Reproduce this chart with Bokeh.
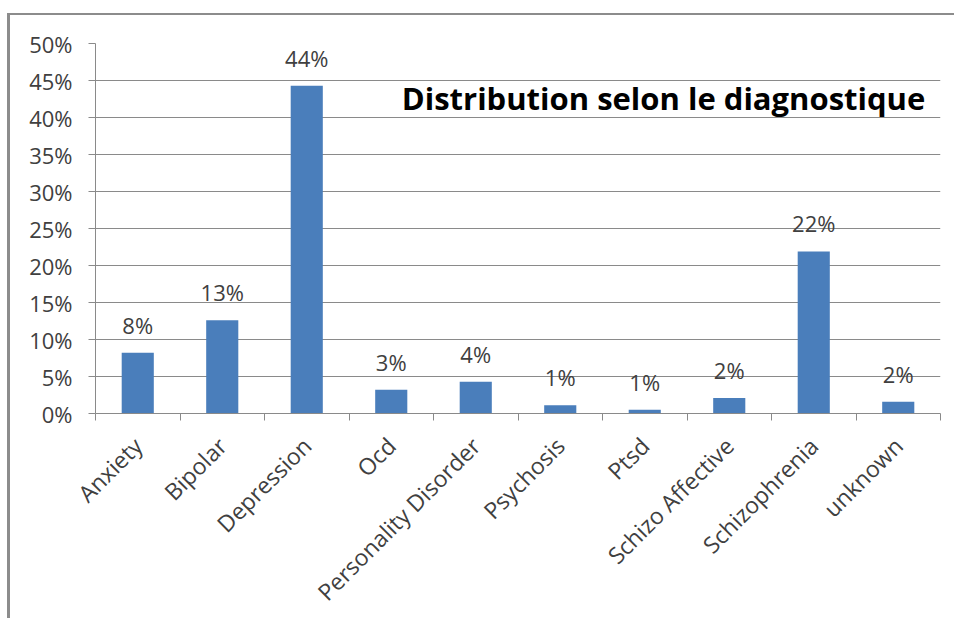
import math
from bokeh.plotting import figure
from bokeh.models import (ColumnDataSource, Range1d, LinearAxis,
                          FixedTicker, PrintfTickFormatter, Label)
from bokeh.core.properties import value
from bokeh.embed import file_html
from bokeh.resources import INLINE

categories = ["Anxiety", "Bipolar", "Depression", "Ocd", "Personality Disorder",
              "Psychosis", "Ptsd", "Schizo Affective", "Schizophrenia", "unknown"]
values = [8.2, 12.6, 44.3, 3.2, 4.3, 1.1, 0.5, 2.1, 21.9, 1.6]
y_ticks = [0, 5, 10, 15, 20, 25, 30, 35, 40, 45, 50]
title_text = "Distribution selon le diagnostique"

FONT = "Open Sans"
TXT = "#404040"
GRID = "#8a8a8a"
BAR = "#4A7EBB"

n = len(categories)
centers = [i + 0.5 for i in range(n)]
bounds = list(range(n + 1))
labels = ["%d%%" % int(v + 0.5) for v in values]
src = ColumnDataSource(dict(x=centers, val=values, lab=labels))

p = figure(x_range=Range1d(0, n), y_range=Range1d(0, 50),
           frame_width=845, frame_height=370,
           min_border_left=85, min_border_top=28, min_border_right=14, min_border_bottom=203,
           x_axis_location=None, y_axis_location="left",
           output_backend="svg", toolbar_location=None, tools="",
           background_fill_color="white", border_fill_color="white",
           outline_line_color=None)
p.margin = (13, 0, 0, 7)
p.styles = {"border-left": "3px solid #8c8c8c", "border-top": "2px solid #8c8c8c"}

p.vbar(x="x", top="val", width=0.38, source=src, fill_color=BAR, line_color=None)
p.text(x="x", y="val", text="lab", source=src, text_align="center",
       text_baseline="alphabetic", y_offset=-28, text_font=value(FONT),
       text_font_size="22px", text_color=TXT)

# y axis
ya = p.yaxis[0]
ya.ticker = FixedTicker(ticks=y_ticks)
ya.formatter = PrintfTickFormatter(format="%d%%")
ya.major_label_text_font = FONT
ya.major_label_text_font_size = "22px"
ya.major_label_text_color = TXT
ya.axis_line_color = GRID
ya.major_tick_line_color = GRID
ya.major_tick_out = 7
ya.major_tick_in = 0
ya.minor_tick_line_color = None
ya.major_label_standoff = 16

p.xgrid.visible = False
p.ygrid.ticker = FixedTicker(ticks=y_ticks)
p.ygrid.grid_line_color = GRID

# boundary ticks (Excel style)
tick_axis = LinearAxis(ticker=FixedTicker(ticks=bounds),
                       major_label_overrides={b: "" for b in bounds},
                       major_tick_out=7, major_tick_in=0,
                       major_tick_line_color=GRID, axis_line_color=GRID,
                       minor_tick_line_color=None,
                       major_label_text_font_size="4px", major_label_standoff=0)
p.add_layout(tick_axis, "below")

cat_axis = LinearAxis(ticker=FixedTicker(ticks=centers),
                      major_label_overrides={c: name for c, name in zip(centers, categories)},
                      axis_line_color=None, major_tick_line_color=None,
                      minor_tick_line_color=None,
                      major_label_orientation=math.pi / 4,
                      major_label_text_font=FONT, major_label_text_font_size="23px",
                      major_label_text_color=TXT, major_label_standoff=15)
p.add_layout(cat_axis, "below")

p.add_layout(Label(x=9.82, y=42.7, text=title_text, text_align="right",
                   text_baseline="middle", text_font=FONT, text_font_style="bold",
                   text_font_size="31px", text_color="#000000"))

open("out.html", "w").write(file_html(p, INLINE))
